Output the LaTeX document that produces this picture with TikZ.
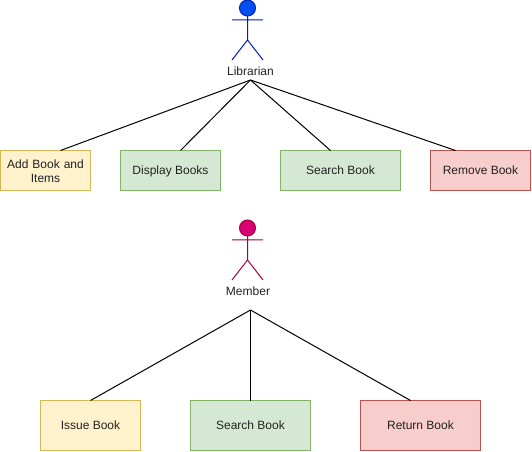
\documentclass[tikz,border=0pt]{standalone}
\usepackage{fontspec}
\setmainfont{Liberation Sans}
\usetikzlibrary{calc}
\definecolor{yfill}{HTML}{FFF2CC}\definecolor{ydraw}{HTML}{D6B656}
\definecolor{gfill}{HTML}{D5E8D4}\definecolor{gdraw}{HTML}{82B366}
\definecolor{rfill}{HTML}{F8CECC}\definecolor{rdraw}{HTML}{B85450}
\definecolor{bfill}{HTML}{0050EF}\definecolor{bdraw}{HTML}{001DBC}
\definecolor{mfill}{HTML}{D80073}\definecolor{mdraw}{HTML}{A50040}
\definecolor{txt}{HTML}{222222}
\tikzset{
  x=0.75pt,y=-0.75pt,
  box/.style={draw,line width=0.75pt,anchor=north west,inner sep=2pt,outer sep=0pt,align=center,font=\fontsize{9}{10.5}\selectfont,text=txt},
  yellowbox/.style={box,fill=yfill,draw=ydraw},
  greenbox/.style={box,fill=gfill,draw=gdraw},
  redbox/.style={box,fill=rfill,draw=rdraw},
  oneline/.style={text height=6.5pt,text depth=0pt},
  actorlabel/.style={font=\fontsize{9}{11}\selectfont,text=txt,inner sep=0pt},
  link/.style={draw=black,line width=0.75pt},
}
\newcommand{\stick}[3]{% x, top y, colour name prefix
  \fill[#3fill,draw=#3draw,line width=0.75pt] (#1,#2+8) circle[radius=8*0.75pt];
  \draw[#3draw,line width=0.75pt] (#1,#2+16) -- (#1,#2+40)
    (#1-15.5,#2+20) -- (#1+15.5,#2+20)
    (#1-15.5,#2+60) -- (#1,#2+40) -- (#1+15.5,#2+60);
}
\begin{document}
\begin{tikzpicture}
\useasboundingbox (0,0) rectangle (532,452);
\stick{247.5}{0}{b}
\stick{247.5}{220}{m}
\node[actorlabel] (lib) at (250.5,71) {Librarian};
\node[actorlabel] (mem) at (248,291) {Member};
\coordinate (apexa) at (250.5,80);
\coordinate (apexb) at (250.5,310);
\node[yellowbox,minimum width=90*0.75pt,minimum height=40*0.75pt,text width=80*0.75pt] (add) at (0.5,150.5) {\rule{0pt}{7pt}Add Book and\\Items};
\node[greenbox,oneline,minimum width=100*0.75pt,minimum height=40*0.75pt] (disp) at (120.5,150.5) {Display Books};
\node[greenbox,oneline,minimum width=120*0.75pt,minimum height=40*0.75pt] (srch) at (280.5,150.5) {Search Book};
\node[redbox,oneline,minimum width=100*0.75pt,minimum height=40*0.75pt] (rem) at (430.5,150.5) {Remove Book};
\node[yellowbox,oneline,minimum width=100*0.75pt,minimum height=50*0.75pt] (iss) at (40.5,400.5) {Issue Book};
\node[greenbox,oneline,minimum width=120*0.75pt,minimum height=50*0.75pt] (srchb) at (190.5,400.5) {Search Book};
\node[redbox,oneline,minimum width=120*0.75pt,minimum height=50*0.75pt] (ret) at (360.5,400.5) {Return Book};
\draw[link] (apexa) -- ($(add.north west)+(60,0)$);
\draw[link] (apexa) -- ($(disp.north west)+(60,0)$);
\draw[link] (apexa) -- ($(srch.north west)+(50,0)$);
\draw[link] (apexa) -- ($(rem.north west)+(25,0)$);
\draw[link] (apexb) -- ($(iss.north west)+(50,0)$);
\draw[link] (apexb) -- ($(srchb.north west)+(60,0)$);
\draw[link] (apexb) -- ($(ret.north west)+(50,0)$);
\end{tikzpicture}
\end{document}
